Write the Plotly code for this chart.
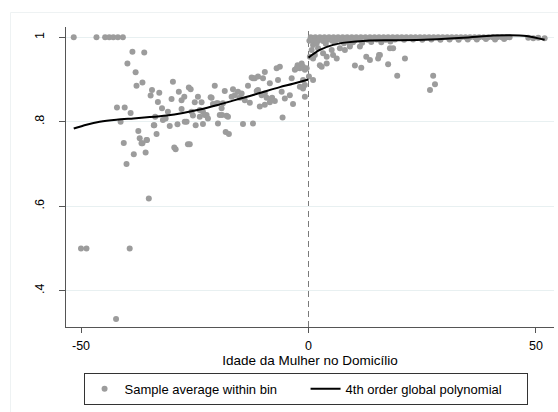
import plotly.graph_objects as go

# ---------------- data ----------------
left_bins_x = [-51.6, -50.0, -48.8, -46.6, -44.7, -43.8, -42.9, -41.9, -40.8,
               -42.3, -39.3, -35.1,
               -38.7, -36.1, -39.8, -38.0, -37.8, -36.5, -34.4, -34.7, -32.8, -33.1,
               -32.2, -29.8, -30.1, -28.5, -27.9, -27.3, -26.3, -25.9, -24.3, -25.0,
               -27.9, -30.9, -42.1, -40.4, -39.1, -41.3, -33.7, -31.4, -34.0, -30.5,
               -28.8, -33.4, -37.4, -37.1, -35.6, -36.5, -40.6, -38.4, -35.8, -40.0,
               -29.5, -29.2, -26.1, -25.4, -23.9, -23.2, -22.4, -24.8, -23.2, -22.1,
               -21.5, -20.6, -21.0, -19.9, -19.1, -19.5, -17.7, -19.9, -18.2, -17.5,
               -18.4, -16.6, -16.9, -15.5, -14.7, -13.3, -14.0, -12.9, -14.4, -12.2,
               -12.5, -11.8, -9.6, -11.1, -9.6, -10.7, -8.5, -8.1, -7.0, -6.7,
               -27.2, -23.5, -25.7, -23.9, -22.8, -21.3, -20.2, -18.8, -19.0, -18.0,
               -16.2, -15.1, -11.4, -12.2, -11.1, -10.0, -10.3, -9.2, -9.6, -8.5,
               -8.0, -7.4, -5.9, -5.2, -4.1, -3.4, -3.7, -3.0, -2.4, -1.9,
               -1.5, -1.2, -0.8, -0.8, -1.2, -5.7, -6.3, -0.8, -1.2, -1.9,
               -2.6, -0.4, -36.7, -35.5, -33.9, -32.0, -26.8, -26.5]
left_bins_y = [1.000, 0.500, 0.500, 1.000, 1.000, 1.000, 1.000, 1.000, 1.000,
               0.333, 0.500, 0.618,
               0.966, 0.964, 0.938, 0.917, 0.885, 0.893, 0.875, 0.862, 0.869, 0.847,
               0.832, 0.895, 0.854, 0.871, 0.851, 0.859, 0.881, 0.877, 0.859, 0.846,
               0.830, 0.824, 0.834, 0.834, 0.821, 0.800, 0.812, 0.808, 0.792, 0.790,
               0.794, 0.771, 0.778, 0.761, 0.757, 0.749, 0.750, 0.723, 0.727, 0.700,
               0.739, 0.735, 0.747, 0.815, 0.812, 0.824, 0.816, 0.792, 0.795, 0.808,
               0.858, 0.885, 0.842, 0.844, 0.832, 0.816, 0.812, 0.796, 0.776, 0.771,
               0.873, 0.877, 0.859, 0.871, 0.867, 0.885, 0.851, 0.845, 0.795, 0.796,
               0.905, 0.903, 0.918, 0.875, 0.867, 0.836, 0.891, 0.855, 0.927, 0.899,
               0.800, 0.846, 0.824, 0.828, 0.816, 0.857, 0.844, 0.844, 0.816, 0.814,
               0.863, 0.857, 0.873, 0.903, 0.907, 0.903, 0.863, 0.857, 0.840, 0.846,
               0.857, 0.849, 0.871, 0.855, 0.863, 0.842, 0.903, 0.923, 0.934, 0.927,
               0.938, 0.930, 0.923, 0.887, 0.899, 0.810, 0.930, 0.859, 0.879, 0.883,
               0.927, 0.927, 0.749, 0.757, 0.792, 0.804, 0.800, 0.747]

right_bins_x = [0.1, 1.0, 1.0, 0.7, 2.1, 1.4, 3.2, 4.0, 5.1, 5.4, 6.2, 6.9, 8.0, 9.1,
                11.3, 2.5, 2.9, 4.0, 1.0, 0.3, 10.2, 11.6, 12.7, 13.5, 15.7, 15.3,
                17.9, 18.6, 17.5, 21.2, 19.5, 9.1, 15.5, 27.4, 27.8, 26.7,
                0.5, 1.5, 2.5, 3.5, 4.5, 5.5, 6.5, 7.5, 8.5, 9.5, 10.5, 11.5,
                12.5, 13.5, 14.5, 15.5, 16.5, 17.5, 18.5, 19.5, 20.5, 21.5, 22.5, 23.5,
                24.5, 25.5, 26.5, 27.5, 28.5, 29.5, 30.5, 31.5, 32.5, 33.5, 34.5, 35.5,
                36.5, 37.5, 38.5, 39.5, 40.5, 41.5, 42.5, 43.5, 44.2,
                0.2, 1.2, 2.2, 3.2, 4.2, 5.2, 6.2, 7.2, 8.2, 9.2, 10.2, 11.2,
                13.0, 15.0, 17.0, 19.0, 21.0, 23.0, 25.0, 27.0, 29.0, 31.0, 33.0, 35.0,
                37.0, 39.0, 41.0, 43.0,
                1.8, 3.8, 5.8, 7.8, 9.8, 11.8, 13.8, 16.0, 18.0,
                48.3, 49.4, 50.5, 51.9]
right_bins_y = [0.907, 0.899, 0.982, 0.970, 0.974, 0.958, 0.962, 0.954, 0.970, 0.958,
                0.950, 0.974, 0.970, 0.978, 0.978, 0.934, 0.930, 0.938, 0.950, 0.954,
                0.933, 0.928, 0.954, 0.946, 0.958, 0.950, 0.974, 0.974, 0.936, 0.950,
                0.909, 0.984, 0.958, 0.909, 0.889, 0.875,
                1.000, 1.000, 1.000, 1.000, 1.000, 1.000, 1.000, 1.000, 1.000, 1.000,
                1.000, 1.000, 1.000, 1.000, 1.000, 1.000, 1.000, 1.000, 1.000, 1.000,
                1.000, 1.000, 1.000, 1.000, 1.000, 1.000, 1.000, 1.000, 1.000, 1.000,
                1.000, 1.000, 1.000, 1.000, 1.000, 1.000, 1.000, 1.000, 1.000, 1.000,
                1.000, 1.000, 1.000, 1.000, 1.000,
                0.992, 0.990, 0.993, 0.991, 0.994, 0.992, 0.995, 0.993, 0.994, 0.995,
                0.993, 0.995, 0.994, 0.995, 0.994, 0.995, 0.994, 0.995, 0.994, 0.995,
                0.994, 0.995, 0.994, 0.995, 0.995, 0.996, 0.995, 0.996,
                0.986, 0.985, 0.987, 0.986, 0.988, 0.987, 0.989, 0.988, 0.990,
                0.999, 0.998, 0.999, 0.998]

poly_left_x = [-51.6, -48.8, -45.9, -42.2, -38.5, -34.9, -31.2, -27.6, -23.9, -20.2,
               -16.6, -12.9, -9.2, -6.3, -3.4, 0.0]
poly_left_y = [0.784, 0.793, 0.800, 0.805, 0.808, 0.811, 0.815, 0.821, 0.829, 0.839,
               0.850, 0.861, 0.873, 0.882, 0.890, 0.900]
poly_right_x = [0.0, 2.5, 5.4, 8.4, 12.7, 19.3, 26.7, 34.0, 40.6, 44.2, 47.9, 51.9]
poly_right_y = [0.952, 0.970, 0.982, 0.988, 0.992, 0.993, 0.995, 0.999, 1.004, 1.005,
                1.003, 0.994]

x_ticks = [-50, 0, 50]
x_tick_labels = ["-50", "0", "50"]
y_ticks = [0.4, 0.6, 0.8, 1.0]
y_tick_labels = [".4", ".6", ".8", "1"]

# ---------------- figure ----------------
FONT = "Liberation Sans, Arial, sans-serif"
DOT = "#9c9c9c"

fig = go.Figure()
fig.add_trace(go.Scatter(x=left_bins_x + right_bins_x, y=left_bins_y + right_bins_y,
                         mode="markers", name="Sample average within bin",
                         marker=dict(color=DOT, size=6, line=dict(width=0))))
fig.add_trace(go.Scatter(x=poly_left_x, y=poly_left_y, mode="lines",
                         name="4th order global polynomial",
                         line=dict(color="black", width=2, shape="spline", smoothing=0.8)))
fig.add_trace(go.Scatter(x=poly_right_x, y=poly_right_y, mode="lines",
                         name="4th order global polynomial", showlegend=False,
                         line=dict(color="black", width=2, shape="spline", smoothing=0.8)))

# cutoff line
fig.add_shape(type="line", xref="x", yref="paper", x0=0, x1=0, y0=0, y1=1,
              line=dict(color="#7a7a7a", width=1, dash="6px,4px"), layer="below")
# faint outer graph-region border (left + top)
fig.add_shape(type="line", xref="paper", yref="paper", x0=-0.1137, x1=-0.1137,
              y0=-0.3, y1=1.0483, line=dict(color="#eef2f3", width=1))
fig.add_shape(type="line", xref="paper", yref="paper", x0=-0.1137, x1=1.02,
              y0=1.0483, y1=1.0483, line=dict(color="#eef2f3", width=1))

fig.update_layout(
    width=558, height=412,
    margin=dict(l=66, r=4, t=27, b=85, autoexpand=False),
    paper_bgcolor="white", plot_bgcolor="white",
    font=dict(family=FONT, size=12, color="black"),
    showlegend=True,
    legend=dict(orientation="h", x=0.036, xanchor="left", y=-0.153, yanchor="top",
                bordercolor="#333333", borderwidth=1, bgcolor="white",
                font=dict(size=13, family=FONT),
                entrywidth=176, entrywidthmode="pixels", tracegroupgap=0),
    xaxis=dict(range=[-53.3, 53.96], tickvals=x_ticks, ticktext=x_tick_labels,
               showgrid=False, zeroline=False, showline=True, linecolor="#555555",
               linewidth=1.3, ticks="outside", ticklen=5, tickcolor="#555555",
               tickfont=dict(size=12.5), ticklabelstandoff=2,
               title=dict(text="Idade da Mulher no Domicílio", font=dict(size=13.5),
                          standoff=0)),
    yaxis=dict(range=[0.314, 1.0244], tickvals=y_ticks, ticktext=y_tick_labels,
               showgrid=True, gridcolor="#e8f0f1", gridwidth=1, zeroline=False,
               showline=True, linecolor="#555555", linewidth=1.3,
               ticks="outside", ticklen=6, tickcolor="#555555",
               tickangle=-90, tickfont=dict(size=12.5), ticklabelstandoff=10),
)

fig.write_html("out.html")
